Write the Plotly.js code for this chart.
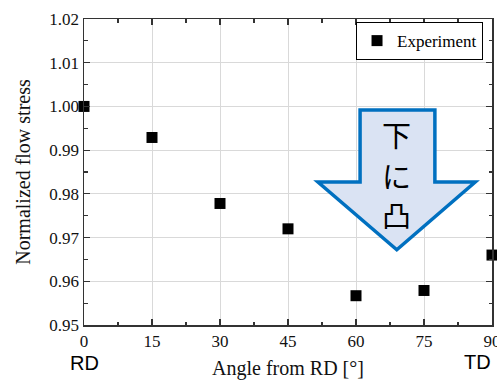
<!DOCTYPE html>
<html>
<head>
<meta charset="utf-8">
<script src="https://cdn.plot.ly/plotly-3.0.1.min.js"></script>
<style>
  html, body { margin: 0; padding: 0; background: #fff; }
  #chart { width: 497px; height: 380px; }
</style>
</head>
<body>
<div id="chart"></div>
<script>
// Angle from the rolling direction (deg) and normalized flow stress
const angles = [0, 15, 30, 45, 60, 75, 90];
const flowStress = [1.000, 0.9929, 0.9778, 0.9720, 0.9567, 0.9579, 0.9660];
const xTicks = [0, 15, 30, 45, 60, 75, 90];
const yTicks = [0.95, 0.96, 0.97, 0.98, 0.99, 1.00, 1.01, 1.02];
const seriesName = 'Experiment';
const arrowLabel = ['下', 'に', '凸'];

const serif = 'Liberation Serif, Times New Roman, serif';
const sans = 'Liberation Sans, Arial, sans-serif';
const cjk = 'Noto Sans CJK JP, sans-serif';

const trace = {
  x: angles,
  y: flowStress,
  type: 'scatter',
  mode: 'markers',
  name: seriesName,
  cliponaxis: false,
  marker: { symbol: 'square', size: 11, color: '#000' }
};

const axisCommon = {
  showline: true,
  linecolor: '#333',
  linewidth: 1.5,
  mirror: 'allticks',
  ticks: 'inside',
  ticklen: 6,
  tickwidth: 1.2,
  tickcolor: '#333',
  showgrid: true,
  gridcolor: '#d9d9d9',
  gridwidth: 1,
  zeroline: false,
  ticklabeloverflow: 'allow',
  tickfont: { family: serif, size: 17, color: '#111' }
};

// Downward block arrow (outline drawn on the centre line)
const arrow = {
  shaftLeft: 60.9, shaftRight: 77.4, top: 0.9992,
  wingY: 0.9827, wingLeft: 51.6, wingRight: 86.3,
  tipX: 69.0, tipY: 0.9672
};
const a = arrow;
const arrowPath =
  `M ${a.shaftLeft},${a.top} L ${a.shaftRight},${a.top} L ${a.shaftRight},${a.wingY} ` +
  `L ${a.wingRight},${a.wingY} L ${a.tipX},${a.tipY} L ${a.wingLeft},${a.wingY} ` +
  `L ${a.shaftLeft},${a.wingY} Z`;

const labelYs = [0.9938, 0.9844, 0.9755];
const arrowAnnotations = arrowLabel.map((ch, i) => ({
  x: a.tipX, y: labelYs[i], xref: 'x', yref: 'y',
  text: ch, showarrow: false,
  xanchor: 'center', yanchor: 'middle',
  font: { family: cjk, size: 29, color: '#000' }
}));

const layout = {
  width: 497,
  height: 380,
  margin: { l: 84, r: 5, t: 19, b: 55 },
  paper_bgcolor: '#fff',
  plot_bgcolor: '#fff',
  showlegend: true,
  legend: {
    x: 0.978, xanchor: 'right',
    y: 0.99, yanchor: 'top',
    bgcolor: '#fff',
    bordercolor: '#000',
    borderwidth: 1,
    font: { family: serif, size: 17, color: '#000' },
    tracegroupgap: 0
  },
  xaxis: Object.assign({}, axisCommon, {
    range: [0, 90],
    tickvals: xTicks,
    ticktext: xTicks.map(String),
    minor: { dtick: 7.5, tick0: 0, ticks: 'inside', ticklen: 3.5, tickcolor: '#333', showgrid: false },
    title: { text: 'Angle from RD [°]', font: { family: serif, size: 20, color: '#111' }, standoff: 11 }
  }),
  yaxis: Object.assign({}, axisCommon, {
    range: [0.95, 1.02],
    tickvals: yTicks,
    ticktext: yTicks.map(v => v.toFixed(2)),
    minor: { dtick: 0.005, tick0: 0.95, ticks: 'inside', ticklen: 3.5, tickcolor: '#333', showgrid: false },
    title: { text: 'Normalized flow stress', font: { family: serif, size: 20, color: '#111' }, standoff: 13 }
  }),
  shapes: [{
    type: 'path', xref: 'x', yref: 'y', layer: 'above',
    path: arrowPath,
    fillcolor: '#dae3f3',
    line: { color: '#0070c0', width: 3.5 }
  }],
  annotations: arrowAnnotations.concat([
    { x: 0, y: -0.125, xref: 'x', yref: 'paper', text: 'RD', showarrow: false,
      xanchor: 'center', yanchor: 'middle', font: { family: sans, size: 20, color: '#000' } },
    { x: 1.0, y: -0.12, xref: 'paper', yref: 'paper', text: 'TD', showarrow: false,
      xanchor: 'right', yanchor: 'middle', xshift: 1, font: { family: sans, size: 20, color: '#000' } }
  ])
};

Plotly.newPlot('chart', [trace], layout, { displayModeBar: false, staticPlot: true });
</script>
</body>
</html>
